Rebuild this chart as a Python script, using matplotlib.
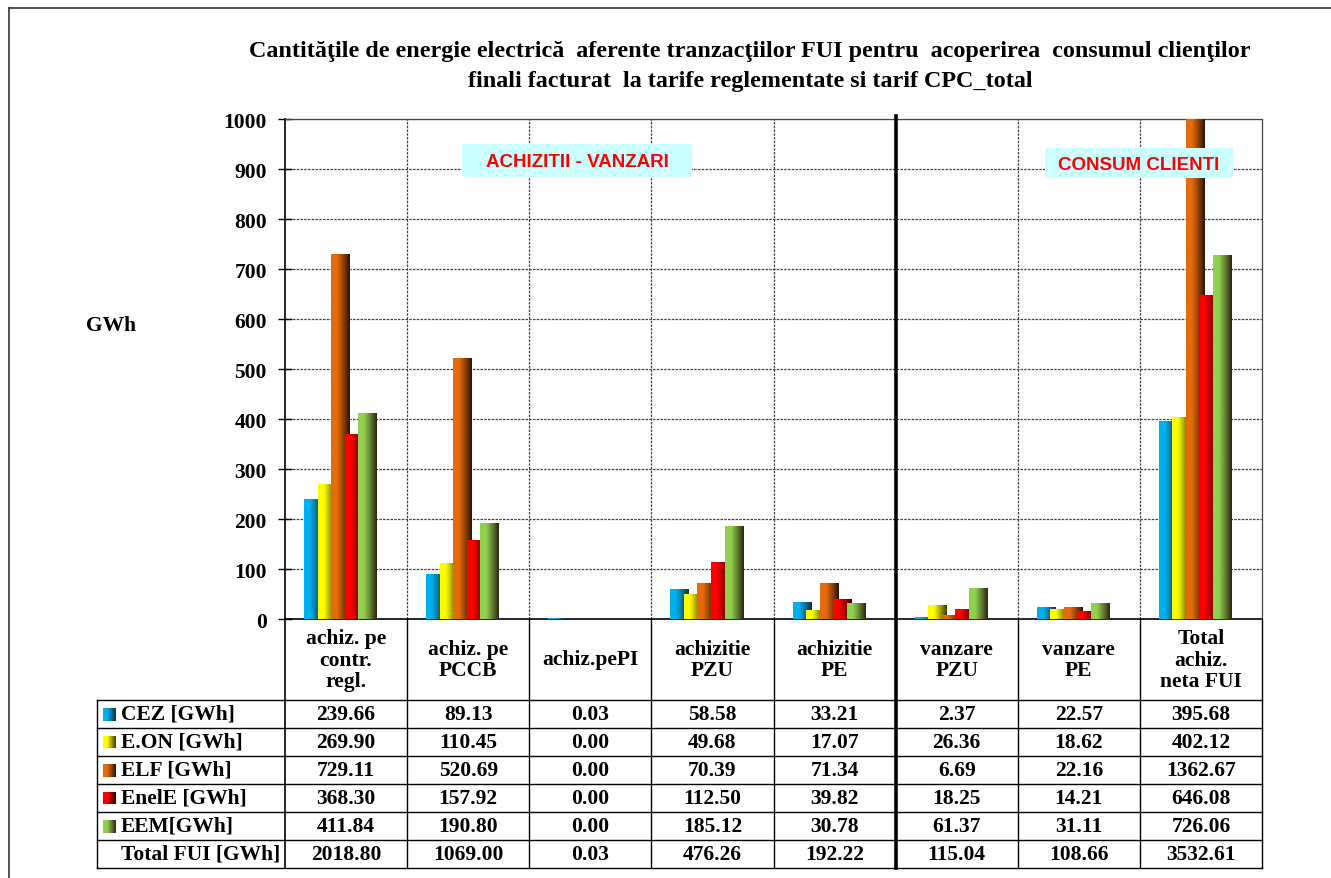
import numpy as np
import matplotlib
matplotlib.use("Agg")
import matplotlib.pyplot as plt
from matplotlib.lines import Line2D
from matplotlib.patches import Rectangle
from matplotlib.colors import to_rgb

# ---------------- data ----------------
categories = ["achiz. pe\ncontr.\nregl.", "achiz. pe\nPCCB", "achiz.pePI",
              "achizitie\nPZU", "achizitie\nPE", "vanzare\nPZU", "vanzare\nPE",
              "Total\nachiz.\nneta FUI"]
series_names = ["CEZ [GWh]", "E.ON [GWh]", "ELF [GWh]", "EnelE [GWh]", "EEM[GWh]"]
cez = [239.66, 89.13, 0.03, 58.58, 33.21, 2.37, 22.57, 395.68]
eon = [269.90, 110.45, 0.00, 49.68, 17.07, 26.36, 18.62, 402.12]
elf = [729.11, 520.69, 0.00, 70.39, 71.34, 6.69, 22.16, 1362.67]
enel = [368.30, 157.92, 0.00, 112.50, 39.82, 18.25, 14.21, 646.08]
eem = [411.84, 190.80, 0.00, 185.12, 30.78, 61.37, 31.11, 726.06]
total_label = "Total FUI [GWh]"
total_fui = [2018.80, 1069.00, 0.03, 476.26, 192.22, 115.04, 108.66, 3532.61]
yticks = [0, 100, 200, 300, 400, 500, 600, 700, 800, 900, 1000]
title_lines = ["Cantităţile de energie electrică  aferente tranzacţiilor FUI pentru  acoperirea  consumul clienţilor",
               "finali facturat  la tarife reglementate si tarif CPC_total"]

series = [cez, eon, elf, enel, eem]
light = ["#00B0F0", "#FFFF00", "#E46C0A", "#FF0000", "#92D050"]
dark = ["#1A2A38", "#3A3A00", "#2E1200", "#300000", "#2E2410"]

plt.rcParams["font.family"] = ["Liberation Serif", "DejaVu Serif"]
plt.rcParams["font.weight"] = "bold"

FS = 15.5
W, H = 1331, 879
fig = plt.figure(figsize=(W / 100, H / 100), dpi=100)
fig.patch.set_facecolor("white")


def fx(x):
    return x / W


def fy(y):
    return 1 - y / H


def gradient(j, n=64):
    t = np.linspace(0, 1, n)
    a = np.clip((t - 0.3) / 0.7, 0, 1) ** 1.1
    c0 = np.array(to_rgb(light[j]))
    c1 = np.array(to_rgb(dark[j]))
    row = c0[None, :] * (1 - a[:, None]) + c1[None, :] * a[:, None]
    return row[None, :, :]


AX_L, AX_R, AX_T, AX_B = 285, 1262, 120, 620
ax = fig.add_axes([fx(AX_L), fy(AX_B), (AX_R - AX_L) / W, (AX_B - AX_T) / H])
ncat = len(categories)
gw = (AX_R - AX_L) / ncat

# bars with horizontal gradient (overlapping like the original)
step, bw, off = 0.1107, 0.1475, 0.156
for j, vals in enumerate(series):
    g = gradient(j)
    for i, v in enumerate(vals):
        if v <= 0:
            continue
        left = i + off + j * step
        ax.imshow(g, extent=(left, left + bw, 0, v), aspect="auto",
                  interpolation="bilinear", zorder=3 + j)

ax.set_xlim(0, ncat)
ax.set_ylim(0, 1000)
ax.set_aspect("auto")

grid_kw = dict(color="#444444", linestyle=(0, (2, 1)), linewidth=0.9, zorder=1)
for t in yticks[1:]:
    ax.axhline(t, **grid_kw)
for i in range(1, ncat):
    if i != 5:
        ax.axvline(i, **grid_kw)

ax.set_xticks([])
ax.set_yticks(yticks)
ax.set_yticklabels([str(t) for t in yticks], fontsize=FS, fontweight="bold")
ax.tick_params(axis="y", direction="inout", length=10, width=1, pad=8)
for s in ["left", "bottom"]:
    ax.spines[s].set_color("black")
    ax.spines[s].set_linewidth(1.2)
for s in ["top", "right"]:
    ax.spines[s].set_color("#444444")
    ax.spines[s].set_linestyle((0, (2, 1)))
    ax.spines[s].set_linewidth(0.9)

# ---------------- figure border ----------------
fig.add_artist(Line2D([fx(9), fx(W)], [fy(9), fy(9)], transform=fig.transFigure,
                      color="#333333", lw=1.2))
fig.add_artist(Line2D([fx(9), fx(9)], [fy(9), fy(H)], transform=fig.transFigure,
                      color="#333333", lw=1.2))

# ---------------- title ----------------
for k, line in enumerate(title_lines):
    fig.text(fx(750), fy(52 + 30 * k), line, ha="center", va="center",
             fontsize=17.4, fontweight="bold")

fig.text(fx(111), fy(326), "GWh", ha="center", va="center", fontsize=FS,
         fontweight="bold")

# ---------------- annotation boxes ----------------
for (x0, y0, w, h, label) in [(462, 145, 230, 33, "ACHIZITII - VANZARI"),
                              (1045, 149, 188, 30, "CONSUM CLIENTI")]:
    fig.add_artist(Rectangle((fx(x0), fy(y0 + h)), w / W, h / H,
                             transform=fig.transFigure, facecolor="#CCFFFF",
                             edgecolor="none", zorder=5))
    fig.text(fx(x0 + w / 2), fy(y0 + h / 2 + 1), label, ha="center", va="center",
             family=["Liberation Sans", "DejaVu Sans"], fontsize=13.5,
             fontweight="bold", color="#FF0000", zorder=6)

# ---------------- data table ----------------
TBL_L = 97
ROW0 = 701
RH = 28
nrows = len(series) + 1
TBL_B = ROW0 + RH * nrows


def fline(x0, y0, x1, y1, lw=1.0, color="black"):
    fig.add_artist(Line2D([fx(x0), fx(x1)], [fy(y0), fy(y1)],
                          transform=fig.transFigure, color=color, lw=lw, zorder=4))


for r in range(nrows + 1):
    y = ROW0 + RH * r
    fline(TBL_L, y, AX_R, y)
fline(TBL_L, ROW0, TBL_L, TBL_B)
fline(AX_L, AX_B, AX_L, TBL_B, lw=1.2)
for i in range(1, ncat + 1):
    x = AX_L + gw * i
    if i == 5:
        continue
    fline(x, AX_B, x, TBL_B)
# thick separator
xs = AX_L + gw * 5
fline(xs, 117, xs, TBL_B, lw=2.6)

# category labels
for i, c in enumerate(categories):
    fig.text(fx(AX_L + gw * (i + 0.5)), fy((AX_B + ROW0) / 2), c, ha="center",
             va="center", fontsize=FS, fontweight="bold", linespacing=1.12,
             multialignment="center")

rows = list(zip(series_names, series)) + [(total_label, total_fui)]
for r, (name, vals) in enumerate(rows):
    yc = ROW0 + RH * r + RH / 2
    fig.text(fx(121), fy(yc), name, ha="left", va="center", fontsize=FS,
             fontweight="bold")
    for i, v in enumerate(vals):
        fig.text(fx(AX_L + gw * (i + 0.5)), fy(yc), f"{v:.2f}", ha="center",
                 va="center", fontsize=FS, fontweight="bold")
    if r < len(series):
        mk = fig.add_axes([fx(103), fy(yc + 6.5), 13 / W, 13 / H])
        mk.imshow(gradient(r), aspect="auto", interpolation="bilinear")
        mk.axis("off")

fig.savefig("out.png", dpi=100, facecolor="white")
